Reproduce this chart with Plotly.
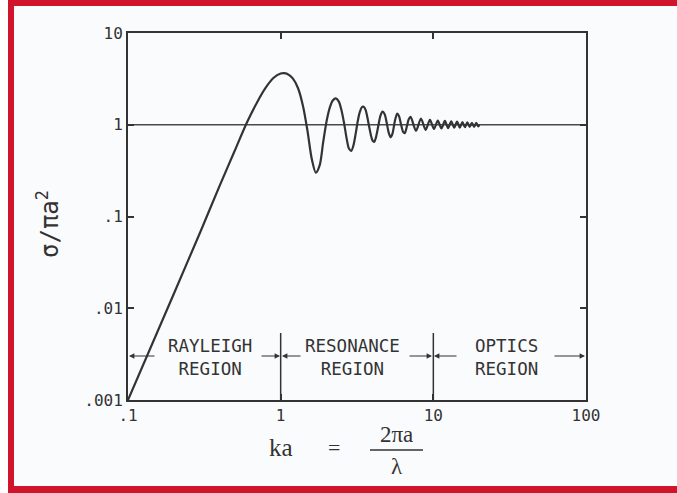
import math
import plotly.graph_objects as go

# Normalised radar cross section of a conducting sphere vs. electrical size ka
ka = [0.1, 0.2, 0.3, 0.4, 0.5, 0.6, 0.7, 0.8, 0.9, 1.0, 1.05, 1.1, 1.2, 1.3, 1.4,
      1.5, 1.6, 1.7, 1.8, 1.9, 2.0, 2.1, 2.2, 2.3, 2.4, 2.5, 2.6, 2.7, 2.8, 2.9,
      3.0, 3.1, 3.2, 3.3, 3.4, 3.5, 3.6, 3.7, 3.8, 3.9, 4.0, 4.1, 4.2, 4.35, 4.5,
      4.65, 4.8, 4.95, 5.1, 5.25, 5.4, 5.6, 5.8, 5.95, 6.15, 6.35, 6.5, 6.7, 6.9,
      7.1, 7.7, 8.3, 8.9, 9.5, 10.1, 10.7, 11.3, 11.9, 12.5, 13.1, 13.7, 14.3,
      14.9, 15.5, 16.1, 16.7, 17.3, 17.9, 18.5, 19.1, 19.7, 20.0]
sigma_norm = [0.001, 0.0145, 0.07, 0.22, 0.52, 1.05, 1.75, 2.55, 3.25, 3.62, 3.66,
              3.6, 3.2, 2.5, 1.6, 0.85, 0.42, 0.30, 0.36, 0.65, 1.1, 1.55, 1.85,
              1.94, 1.8, 1.45, 1.05, 0.72, 0.55, 0.52, 0.6, 0.8, 1.1, 1.38, 1.55,
              1.57, 1.45, 1.2, 0.95, 0.77, 0.67, 0.65, 0.72, 0.95, 1.25, 1.39, 1.3,
              1.05, 0.82, 0.73, 0.8, 1.1, 1.32, 1.25, 1.0, 0.83, 0.81, 0.95, 1.15,
              1.22, 0.86, 1.17, 0.88, 1.13, 0.9, 1.11, 0.91, 1.1, 0.92, 1.09, 0.93,
              1.08, 0.93, 1.07, 0.94, 1.06, 0.95, 1.05, 0.95, 1.05, 0.96, 1.0]

x_tick_vals = [0.1, 1, 10, 100]
x_tick_text = [".1", "1", "10", "100"]
y_tick_vals = [0.001, 0.01, 0.1, 1, 10]
y_tick_text = [".001", ".01", ".1", "1", "10"]
optics_limit = 1.0
region_bounds = [1, 10]
region_names = ["RAYLEIGH<br>REGION", "RESONANCE<br>REGION", "OPTICS<br>REGION"]

# page and plot-area geometry (pixels)
W, H = 677, 493
L, R, T, B = 128, 586, 33, 400
X_RANGE = (-1, 2)
Y_RANGE = (-3, 1)

INK = "#333333"
RED = "#d0142c"
BG = "#fafbfd"
MONO = "DejaVu Sans Mono"
SERIF = "Liberation Serif"


def px_x(p):
    return (p - L) / (R - L)


def px_y(p):
    return (B - p) / (B - T)


def data_x(v):
    return (math.log10(v) - X_RANGE[0]) / (X_RANGE[1] - X_RANGE[0])


def label(x, y, text, family, size, **kw):
    return dict(xref="paper", yref="paper", x=px_x(x), y=px_y(y), text=text,
                showarrow=False, xanchor="center", yanchor="middle",
                font=dict(family=family, size=size, color=INK), **kw)


fig = go.Figure()
fig.add_trace(go.Scatter(
    x=[x_tick_vals[0], x_tick_vals[-1]], y=[optics_limit, optics_limit],
    mode="lines", line=dict(color="#4a4a4a", width=1.3), hoverinfo="skip"))
fig.add_trace(go.Scatter(
    x=ka, y=sigma_norm, mode="lines",
    line=dict(color=INK, width=2.2, shape="spline", smoothing=0.8)))

shapes = []
# frame border
for x0, y0, x1, y1, col in [
        (0, -20, 8, 520, "white"),
        (8, -20, 700, 6, RED),
        (8, -20, 14, 520, RED),
        (8, 486, 700, 520, RED)]:
    shapes.append(dict(type="rect", xref="paper", yref="paper",
                       x0=px_x(x0), x1=px_x(x1), y0=px_y(y0), y1=px_y(y1),
                       fillcolor=col, line=dict(width=0), layer="above"))
# region separators
for b in region_bounds:
    shapes.append(dict(type="line", xref="paper", yref="paper",
                       x0=data_x(b), x1=data_x(b), y0=0, y1=px_y(333),
                       line=dict(color=INK, width=1.5)))
# fraction bar of the x title
shapes.append(dict(type="line", xref="paper", yref="paper",
                   x0=px_x(370), x1=px_x(423), y0=px_y(450), y1=px_y(450),
                   line=dict(color=INK, width=1.5)))

annotations = []
# region labels
for name, cx in zip(region_names, [210, 352, 506]):
    annotations.append(label(cx, 357, name, MONO, 17.5))
# region arrows: (head x in px, tail offset in px)
arrow_y = px_y(356)
for head, off in [(129, 27), (280, -20), (282, 20), (432, -24), (434, 24), (585, -32)]:
    annotations.append(dict(xref="paper", yref="paper", x=px_x(head), y=arrow_y,
                            ax=off, ay=0, text="", showarrow=True, arrowhead=2,
                            arrowsize=0.9, arrowwidth=1.2, arrowcolor=INK, standoff=0))
# axis titles
annotations += [
    label(48, 224, "σ/πa<sup>2</sup>", MONO, 24, textangle=-90),
    label(281, 447, "ka", SERIF, 25),
    label(334, 447, "=", SERIF, 22),
    label(396, 434, "2πa", SERIF, 23),
    label(397, 466, "λ", SERIF, 23),
]

axis_common = dict(type="log", showgrid=False, zeroline=False, showline=True,
                   linecolor=INK, linewidth=2, mirror="ticks", ticks="inside",
                   ticklen=6, tickwidth=1.5, tickcolor=INK,
                   tickfont=dict(family=MONO, size=16, color=INK))

fig.update_layout(
    width=W, height=H, autosize=False,
    margin=dict(l=L, r=W - R, t=T, b=H - B, pad=0),
    paper_bgcolor=BG, plot_bgcolor=BG,
    showlegend=False,
    shapes=shapes, annotations=annotations,
    xaxis=dict(range=list(X_RANGE), tickvals=x_tick_vals, ticktext=x_tick_text,
               **axis_common),
    yaxis=dict(range=list(Y_RANGE), tickvals=y_tick_vals, ticktext=y_tick_text,
               **axis_common),
)

fig.write_html("out.html")
